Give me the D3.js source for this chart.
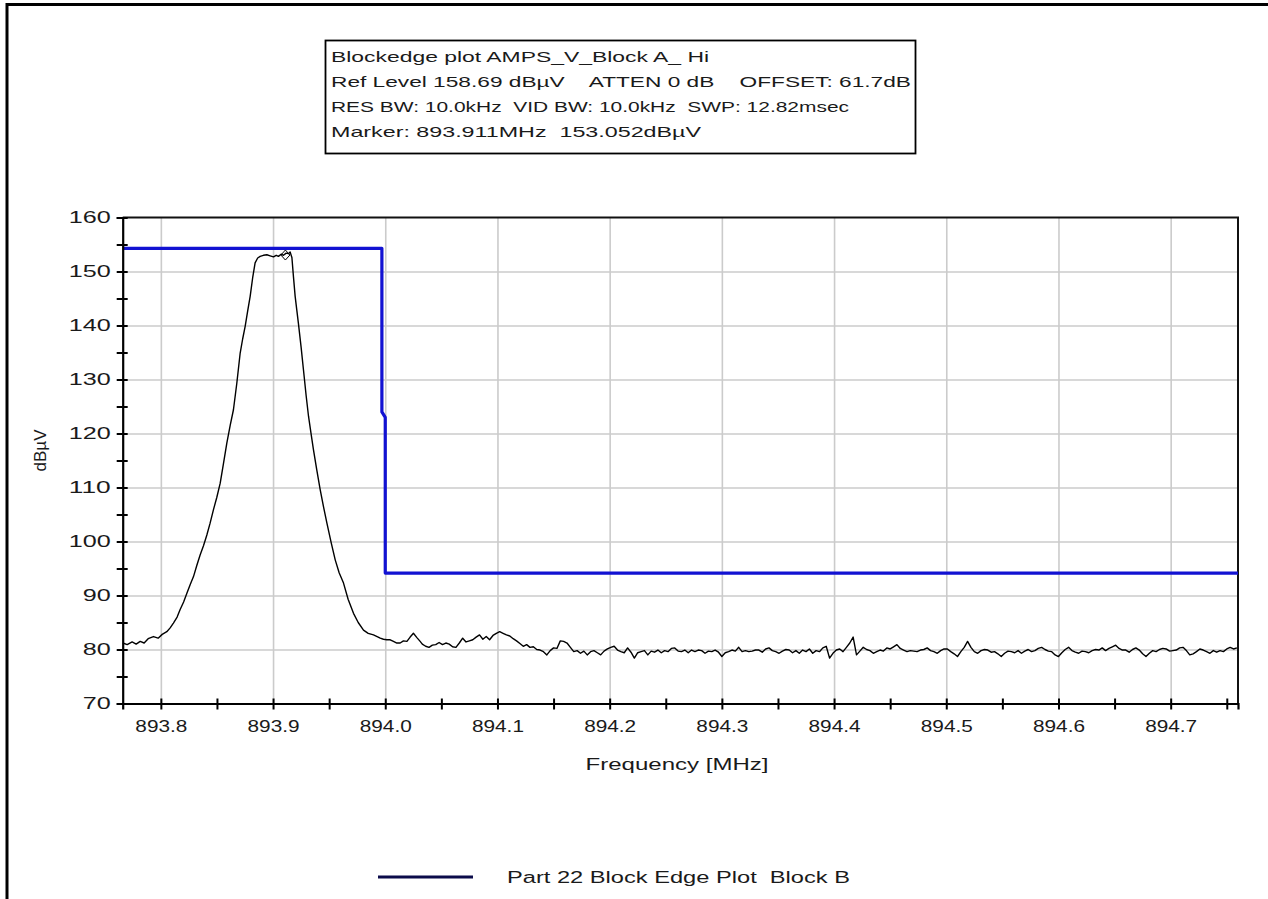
<!DOCTYPE html>
<html><head><meta charset="utf-8">
<script src="https://cdn.jsdelivr.net/npm/d3@7"></script>
<style>
html,body{margin:0;padding:0;background:#fff;}
svg{display:block;}
text{font-family:"Liberation Sans",Arial,sans-serif;fill:#1a1a1a;}
</style></head><body>
<svg id="chart" width="1268" height="899"></svg>
<script>
// ---------- data ----------
const headerLines = [
  "Blockedge plot AMPS_V_Block A_ Hi",
  "Ref Level 158.69 dBµV    ATTEN 0 dB    OFFSET: 61.7dB",
  "RES BW: 10.0kHz  VID BW: 10.0kHz  SWP: 12.82msec",
  "Marker: 893.911MHz  153.052dBµV"
];
const yTitle = "dBµV";
const xTitle = "Frequency [MHz]";
const legendLabel = "Part 22 Block Edge Plot  Block B";

const yDomain = [70, 160];
const xDomain = [893.766, 894.760];
const yTickValues = [70, 80, 90, 100, 110, 120, 130, 140, 150, 160];
const yMinorTicks = [75, 85, 95, 105, 115, 125, 135, 145, 155];
const yGridValues = [80, 90, 100, 110, 120, 130, 140, 150];
const xTickValues = [893.8, 893.9, 894.0, 894.1, 894.2, 894.3, 894.4, 894.5, 894.6, 894.7];
const xMinorTicks = [893.85, 893.95, 894.05, 894.15, 894.25, 894.35, 894.45, 894.55, 894.65, 894.75];

// limit line (Part 22 Block Edge, Block B)
const limitFreq  = [893.766, 893.997, 893.997, 894.000, 894.000, 894.760];
const limitLevel = [154.3, 154.3, 124.0, 123.0, 94.15, 94.15];

// measured trace: carrier region
const peakFreq = [
  893.7661, 893.7700, 893.7744, 893.7780, 893.7816, 893.7851, 893.7887, 893.7934, 893.7976, 893.8012,
  893.8053, 893.8083, 893.8112, 893.8145, 893.8172, 893.8203, 893.8232, 893.8261, 893.8291, 893.8321,
  893.8350, 893.8380, 893.8410, 893.8439, 893.8469, 893.8499, 893.8529, 893.8558, 893.8588, 893.8618,
  893.8647, 893.8677, 893.8707, 893.8729, 893.8751, 893.8774, 893.8796, 893.8818, 893.8840, 893.8863,
  893.8885, 893.8914, 893.8945, 893.8974, 893.9004, 893.9028, 893.9048, 893.9072, 893.9093, 893.9117,
  893.9137, 893.9152, 893.9168, 893.9182, 893.9197, 893.9212, 893.9226, 893.9250, 893.9271, 893.9295,
  893.9316, 893.9340, 893.9360, 893.9390, 893.9420, 893.9449, 893.9480, 893.9518, 893.9554, 893.9589,
  893.9628, 893.9669, 893.9717, 893.9759, 893.9806, 893.9848, 893.9895, 893.9937,
  893.9955, 893.9984, 894.0014, 894.0044, 894.0073, 894.0103, 894.0133, 894.0162, 894.0193, 894.0222,
  894.0251, 894.0282, 894.0311
];
const peakLevel = [
  81.2, 80.9, 81.4, 81.0, 81.5, 81.2, 82.0, 82.4, 82.1, 82.8,
  83.3, 84.0, 84.9, 86.0, 87.4, 88.8, 90.4, 92.0, 93.5, 95.6,
  97.5, 99.2, 101.2, 103.4, 105.9, 108.2, 110.8, 114.4, 118.2, 121.5,
  124.4, 129.3, 134.9, 137.5, 139.8, 142.7, 145.4, 148.8, 151.6, 152.5,
  152.8, 153.0, 153.1, 152.9, 152.7, 153.0, 152.8, 153.2, 153.0, 153.4,
  153.3, 153.6, 152.6, 149.0, 145.4, 142.8, 140.4, 136.0, 131.8, 127.0,
  123.2, 119.8, 117.0, 113.2, 109.6, 106.5, 103.4, 99.8, 96.6, 94.2,
  92.3, 89.3, 86.7, 85.0, 83.6, 83.0, 82.7, 82.3,
  82.1, 81.9, 81.8, 81.8, 81.5, 81.2, 81.2, 81.6, 81.5, 82.3,
  83.0, 82.2, 81.5
];

// measured trace: noise floor region
const noiseFreq = [
  894.033, 894.036, 894.039, 894.042, 894.045, 894.048, 894.051, 894.054, 894.057, 894.060,
  894.063, 894.066, 894.069, 894.072, 894.075, 894.078, 894.081, 894.084, 894.087, 894.090,
  894.093, 894.096, 894.099, 894.102, 894.105, 894.108, 894.111, 894.114, 894.117, 894.120,
  894.123, 894.126, 894.129, 894.132, 894.135, 894.138, 894.141, 894.144, 894.147, 894.150,
  894.153, 894.156, 894.159, 894.162, 894.165, 894.168, 894.171, 894.174, 894.177, 894.180,
  894.183, 894.186, 894.189, 894.192, 894.195, 894.198, 894.201, 894.204, 894.207, 894.210,
  894.213, 894.216, 894.219, 894.222, 894.225, 894.228, 894.231, 894.234, 894.237, 894.240,
  894.243, 894.246, 894.249, 894.252, 894.255, 894.258, 894.261, 894.264, 894.267, 894.270,
  894.273, 894.276, 894.279, 894.282, 894.285, 894.288, 894.291, 894.294, 894.297, 894.300,
  894.303, 894.306, 894.309, 894.312, 894.315, 894.318, 894.321, 894.324, 894.327, 894.330,
  894.333, 894.336, 894.339, 894.342, 894.345, 894.348, 894.351, 894.354, 894.357, 894.360,
  894.363, 894.366, 894.369, 894.372, 894.375, 894.378, 894.381, 894.384, 894.387, 894.390,
  894.393, 894.396, 894.399, 894.402, 894.405, 894.408, 894.411, 894.414, 894.417, 894.420,
  894.423, 894.426, 894.429, 894.432, 894.435, 894.438, 894.441, 894.444, 894.447, 894.450,
  894.453, 894.456, 894.459, 894.462, 894.465, 894.468, 894.471, 894.474, 894.477, 894.480,
  894.483, 894.486, 894.489, 894.492, 894.495, 894.498, 894.501, 894.504, 894.507, 894.510,
  894.513, 894.516, 894.519, 894.522, 894.525, 894.528, 894.531, 894.534, 894.537, 894.540,
  894.543, 894.546, 894.549, 894.552, 894.555, 894.558, 894.561, 894.564, 894.567, 894.570,
  894.573, 894.576, 894.579, 894.582, 894.585, 894.588, 894.591, 894.594, 894.597, 894.600,
  894.603, 894.606, 894.609, 894.612, 894.615, 894.618, 894.621, 894.624, 894.627, 894.630,
  894.633, 894.636, 894.639, 894.642, 894.645, 894.648, 894.651, 894.654, 894.657, 894.660,
  894.663, 894.666, 894.669, 894.672, 894.675, 894.678, 894.681, 894.684, 894.687, 894.690,
  894.693, 894.696, 894.699, 894.702, 894.705, 894.708, 894.711, 894.714, 894.717, 894.720,
  894.723, 894.726, 894.729, 894.732, 894.735, 894.738, 894.741, 894.744, 894.747, 894.750,
  894.753, 894.756, 894.759
];
const noiseLevel = [
  81.0, 80.6, 80.4, 80.8, 80.9, 81.3, 80.9, 81.2, 81.0, 80.5,
  80.4, 81.2, 82.1, 81.4, 81.6, 81.8, 82.3, 82.7, 81.9, 82.4,
  81.8, 82.6, 83.0, 83.3, 83.0, 82.7, 82.5, 82.0, 81.6, 81.1,
  80.6, 80.9, 80.4, 80.5, 80.0, 79.9, 79.6, 79.0, 79.8, 80.3,
  80.2, 81.6, 81.5, 81.2, 80.4, 79.6, 79.8, 79.3, 79.7, 79.0,
  79.6, 79.8, 79.4, 79.0, 79.7, 80.1, 80.4, 80.6, 79.9, 79.6,
  79.4, 80.3, 79.5, 78.4, 79.4, 79.6, 79.8, 79.0, 79.7, 79.5,
  79.9, 79.4, 79.8, 79.6, 80.2, 80.3, 79.7, 79.6, 79.9, 79.4,
  79.9, 79.6, 79.9, 79.8, 79.3, 79.7, 79.6, 79.9, 79.5, 78.7,
  79.4, 79.6, 79.9, 79.7, 80.4, 79.6, 79.8, 79.6, 79.7, 79.9,
  79.9, 79.5, 80.1, 80.3, 79.8, 79.6, 79.3, 79.7, 80.0, 79.9,
  79.4, 79.8, 79.3, 79.9, 79.6, 80.1, 79.3, 79.8, 79.6, 80.3,
  80.6, 78.4, 79.3, 79.9, 80.1, 79.6, 80.4, 81.2, 82.3, 79.0,
  79.7, 80.4, 80.0, 79.8, 79.3, 79.6, 79.9, 79.7, 80.3, 80.1,
  80.5, 80.9, 80.2, 79.9, 79.6, 79.8, 79.7, 79.6, 79.9, 80.0,
  80.3, 79.8, 79.6, 79.3, 79.8, 80.1, 80.1, 79.6, 79.2, 78.7,
  79.6, 80.4, 81.5, 80.4, 79.6, 79.3, 79.8, 80.0, 79.9, 79.5,
  79.6, 79.2, 78.7, 79.3, 79.7, 79.6, 79.4, 79.8, 79.3, 79.7,
  80.0, 79.6, 79.8, 80.2, 80.4, 80.0, 79.7, 79.6, 79.0, 78.7,
  79.4, 80.0, 80.4, 79.8, 79.5, 79.3, 79.7, 79.6, 79.4, 79.8,
  80.0, 79.9, 80.3, 79.8, 80.2, 80.5, 80.8, 80.2, 79.9, 79.9,
  79.5, 80.0, 80.3, 79.9, 79.2, 78.7, 79.3, 79.8, 79.6, 80.0,
  80.2, 80.1, 79.7, 79.8, 79.9, 80.3, 80.4, 79.8, 79.0, 79.2,
  79.6, 80.1, 79.9, 79.6, 79.3, 79.8, 79.5, 79.8, 79.6, 80.1,
  80.4, 80.1, 80.3
];

const markerFreq = 893.911, markerLevel = 153.052;

// ---------- drawing ----------
const svg = d3.select("#chart");
const L = 122.7, R = 1238, T = 217.5, B = 703.5;
const x = d3.scaleLinear().domain(xDomain).range([L, R]);
const y = d3.scaleLinear().domain(yDomain).range([B, T]);
const FONT = '"Liberation Sans",Arial,sans-serif';

// outer frame (top + left edges)
svg.append("path").attr("d", "M7,1100 L7,4.5 L1300,4.5")
  .attr("fill", "none").attr("stroke", "#000").attr("stroke-width", 3);

// header box
const headerWidths = [378, 580, 518, 370];
const hb = svg.append("g");
hb.append("rect").attr("x", 325.5).attr("y", 40.5).attr("width", 590).attr("height", 113)
  .attr("fill", "#fff").attr("stroke", "#000").attr("stroke-width", 1.8);
hb.selectAll("text").data(headerLines).join("text")
  .attr("x", 331).attr("y", (d, i) => 61.5 + i * 25.3)
  .attr("font-size", 15).attr("xml:space", "preserve").style("white-space", "pre")
  .attr("textLength", (d, i) => headerWidths[i]).attr("lengthAdjust", "spacingAndGlyphs")
  .text(d => d);

// grid
const gridG = svg.append("g");
gridG.append("g").attr("transform", `translate(${L},0)`)
  .call(d3.axisLeft(y).tickValues(yGridValues).tickSize(-(R - L)).tickFormat(""))
  .call(g => g.select(".domain").remove())
  .call(g => g.selectAll("line").attr("stroke", "#cbcbcb").attr("stroke-width", 1.6));
gridG.append("g").attr("transform", `translate(0,${B})`)
  .call(d3.axisBottom(x).tickValues(xTickValues).tickSize(-(B - T)).tickFormat(""))
  .call(g => g.select(".domain").remove())
  .call(g => g.selectAll("line").attr("stroke", "#cbcbcb").attr("stroke-width", 1.6));

// frame top and right
svg.append("path").attr("d", `M${L},${T} L${R},${T} L${R},${B}`)
  .attr("fill", "none").attr("stroke", "#111").attr("stroke-width", 2);

// limit line
const limitData = limitFreq.map((f, i) => [f, limitLevel[i]]);
svg.append("path").datum(limitData)
  .attr("d", d3.line().x(d => x(d[0])).y(d => y(d[1])))
  .attr("fill", "none").attr("stroke", "#1212d2").attr("stroke-width", 3.2)
  .attr("stroke-linejoin", "round");

// trace
const traceData = peakFreq.map((f, i) => [f, peakLevel[i]])
  .concat(noiseFreq.map((f, i) => [f, noiseLevel[i]]));
svg.append("path").datum(traceData)
  .attr("d", d3.line().x(d => x(d[0])).y(d => y(d[1])))
  .attr("fill", "none").attr("stroke", "#000").attr("stroke-width", 1.4)
  .attr("stroke-linejoin", "round");

// marker
svg.append("path")
  .attr("transform", `translate(${x(markerFreq)},${y(markerLevel)})`)
  .attr("d", "M0,-5 L4.5,0 L0,5 L-4.5,0Z")
  .attr("fill", "none").attr("stroke", "#000").attr("stroke-width", 1);

// y axis
const yAx = svg.append("g").attr("transform", `translate(${L},0)`);
yAx.append("g").call(d3.axisLeft(y).tickValues(yTickValues).tickSize(6).tickPadding(6).tickFormat(d3.format("d")))
  .call(g => g.selectAll("text").attr("font-size", 17).attr("fill", "#1a1a1a").style("font-family", FONT)
    .attr("textLength", d => String(d).length * 14).attr("lengthAdjust", "spacingAndGlyphs"));
yAx.append("g").call(d3.axisLeft(y).tickValues(yMinorTicks).tickSize(6).tickFormat(""))
  .call(g => g.select(".domain").remove());
yAx.append("g").call(d3.axisRight(y).tickValues(yTickValues.concat(yMinorTicks)).tickSize(5).tickFormat(""))
  .call(g => g.select(".domain").remove());
yAx.selectAll("line").attr("stroke", "#000").attr("stroke-width", 2);
yAx.selectAll(".domain").attr("stroke", "#000").attr("stroke-width", 2.2);

// x axis
const xAx = svg.append("g").attr("transform", `translate(0,${B})`);
xAx.append("g").call(d3.axisBottom(x).tickValues(xTickValues).tickSize(6).tickPadding(10).tickFormat(d3.format(".1f")))
  .call(g => g.selectAll("text").attr("font-size", 17).attr("fill", "#1a1a1a").style("font-family", FONT)
    .attr("textLength", 52).attr("lengthAdjust", "spacingAndGlyphs"));
xAx.append("g").call(d3.axisBottom(x).tickValues(xMinorTicks).tickSize(6).tickFormat(""))
  .call(g => g.select(".domain").remove());
xAx.append("g").call(d3.axisTop(x).tickValues(xTickValues.concat(xMinorTicks)).tickSize(5).tickFormat(""))
  .call(g => g.select(".domain").remove());
xAx.selectAll("line").attr("stroke", "#000").attr("stroke-width", 2);
xAx.selectAll(".domain").attr("stroke", "#000").attr("stroke-width", 2.2);

// axis titles
svg.append("text").attr("transform", `translate(46,${(T + B) / 2 - 10}) rotate(-90)`)
  .attr("text-anchor", "middle").attr("font-size", 16)
  .attr("textLength", 42).attr("lengthAdjust", "spacingAndGlyphs").text(yTitle);
svg.append("text").attr("x", 677).attr("y", 770)
  .attr("text-anchor", "middle").attr("font-size", 17)
  .attr("textLength", 183).attr("lengthAdjust", "spacingAndGlyphs").text(xTitle);

// legend
svg.append("line").attr("x1", 378).attr("x2", 473).attr("y1", 877).attr("y2", 877)
  .attr("stroke", "#0b0b4a").attr("stroke-width", 3);
svg.append("text").attr("x", 507).attr("y", 883).attr("font-size", 16)
  .attr("xml:space", "preserve").style("white-space", "pre")
  .attr("textLength", 343).attr("lengthAdjust", "spacingAndGlyphs").text(legendLabel);
</script>
</body></html>
